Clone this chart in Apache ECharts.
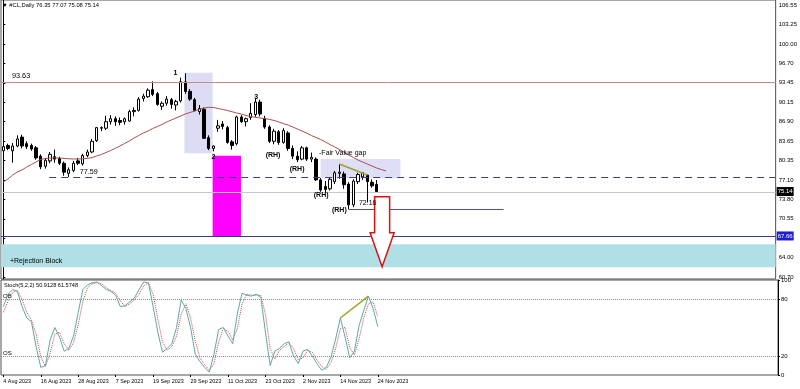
<!DOCTYPE html>
<html><head><meta charset="utf-8">
<script src="https://cdn.jsdelivr.net/npm/echarts@6/dist/echarts.min.js"></script>
<style>html,body{margin:0;padding:0;background:#fff}#c{width:800px;height:389px}</style>
</head><body><div id="c"></div>
<script>
// ---------------- DATA ----------------
const dates = ['4 Aug 2023','7 Aug 2023','8 Aug 2023','9 Aug 2023','10 Aug 2023','11 Aug 2023','14 Aug 2023','15 Aug 2023','16 Aug 2023','17 Aug 2023','18 Aug 2023','21 Aug 2023','22 Aug 2023','23 Aug 2023','24 Aug 2023','25 Aug 2023','28 Aug 2023','29 Aug 2023','30 Aug 2023','31 Aug 2023',
'1 Sep 2023','4 Sep 2023','5 Sep 2023','6 Sep 2023','7 Sep 2023','8 Sep 2023','11 Sep 2023','12 Sep 2023','13 Sep 2023','14 Sep 2023','15 Sep 2023','18 Sep 2023','19 Sep 2023','20 Sep 2023','21 Sep 2023','22 Sep 2023','25 Sep 2023','26 Sep 2023','27 Sep 2023','28 Sep 2023','29 Sep 2023',
'2 Oct 2023','3 Oct 2023','4 Oct 2023','5 Oct 2023','6 Oct 2023','9 Oct 2023','10 Oct 2023','11 Oct 2023','12 Oct 2023','13 Oct 2023','16 Oct 2023','17 Oct 2023','18 Oct 2023','19 Oct 2023','20 Oct 2023','23 Oct 2023','24 Oct 2023','25 Oct 2023','26 Oct 2023','27 Oct 2023','30 Oct 2023','31 Oct 2023',
'1 Nov 2023','2 Nov 2023','3 Nov 2023','6 Nov 2023','7 Nov 2023','8 Nov 2023','9 Nov 2023','10 Nov 2023','13 Nov 2023','14 Nov 2023','15 Nov 2023','16 Nov 2023','17 Nov 2023','20 Nov 2023','21 Nov 2023','22 Nov 2023','23 Nov 2023','24 Nov 2023'];

const dateTickLabels = ['4 Aug 2023','16 Aug 2023','28 Aug 2023','7 Sep 2023','19 Sep 2023','29 Sep 2023','11 Oct 2023','23 Oct 2023','2 Nov 2023','14 Nov 2023','24 Nov 2023'];

const openP = [82.0,82.9,82.0,82.8,84.3,83.2,82.9,82.5,81.1,79.4, 80.3,81.0,80.7,79.9,78.2,78.7,80.3,79.8,81.2,81.8, 83.7,85.8,85.8,86.9,87.4,87.1,86.9,87.0,88.6,88.8, 90.8,91.1,92.3,91.6,89.5,90.0,90.6,89.7,90.4,93.6, 92.0,90.6,88.6,89.0,84.2,82.4,85.8,86.5,85.9,83.5, 83.2,87.7,86.9,87.6,88.1,90.2,87.4,86.0,83.6,85.2, 83.4,85.0,82.4,81.1,80.6,82.5,80.6,80.6,77.1,76.0, 75.6,76.8,78.2,78.1,76.4,72.9,76.8,77.6,77.9,76.7, 76.35];
const highP = [83.3,83.2,83.3,84.6,84.7,83.6,83.2,82.8,81.4,80.8, 81.8,82.2,81.0,80.2,79.2,80.3,80.8,81.5,82.2,84.0, 86.0,86.1,87.9,88.0,87.8,87.6,87.6,88.9,89.3,91.0, 91.6,92.5,93.7,91.9,90.3,91.2,90.9,90.6,94.3,95.05, 92.4,90.9,89.7,89.3,84.6,82.9,87.2,87.0,86.2,83.8, 87.9,88.0,87.6,90.0,90.9,90.6,87.9,86.3,85.7,85.5, 85.8,85.3,82.9,81.9,82.8,82.7,81.7,80.9,77.4,76.9, 77.5,78.6,79.77,78.5,76.7,77.2,78.3,78.3,77.95,77.2, 77.07];
const lowP = [81.6,82.1,80.0,82.6,82.4,82.3,82.0,80.5,78.9,79.0, 79.9,80.0,79.6,77.8,77.59,78.4,79.6,79.5,80.9,81.6, 83.5,85.3,85.5,86.4,86.2,86.3,86.4,86.9,87.8,88.6, 90.3,90.9,91.2,89.6,88.9,89.6,89.1,88.8,90.1,91.6, 90.4,88.6,88.1,84.0,82.1,81.9,85.2,85.6,83.2,82.2, 82.9,86.7,86.1,87.2,87.7,87.8,85.7,83.3,83.1,83.0, 83.2,82.0,80.6,80.1,80.4,80.3,80.1,76.9,75.1,75.0, 75.3,76.4,77.3,75.6,72.16,72.5,76.4,77.1,73.3,75.8, 75.08];
const closeP = [82.7,82.4,82.8,84.0,82.8,82.7,82.3,80.8,79.3,80.4, 81.4,80.6,79.9,78.4,78.8,79.9,79.9,81.2,81.8,83.6, 85.9,85.9,86.9,87.4,86.9,86.8,87.4,88.6,88.8,90.7, 91.2,92.2,91.5,89.8,90.0,90.7,89.8,90.3,93.63,92.0, 90.7,88.8,89.1,84.1,82.4,82.8,86.2,86.1,83.4,82.9, 87.7,86.9,87.4,88.3,90.2,88.2,86.0,83.6,85.3,83.4, 85.4,82.4,81.1,80.5,82.5,80.6,80.9,77.1,75.4,75.5, 77.2,78.3,78.4,76.3,72.9,76.9,78.0,78.3,76.8,76.1, 75.14];

// moving average (drawn 2 bars past the last candle)
const maLine = [76.74,77.25,77.92,78.43,78.76,79.27,79.69,80.11,80.53,80.70, 80.78,80.80,80.78,80.72,80.65,80.62,80.62,80.66,80.72,80.85, 81.12,81.37,81.71,82.05,82.42,82.81,83.23,83.65,84.15,84.57, 84.99,85.33,85.75,86.09,86.42,86.85,87.18,87.52,87.86,88.19, 88.44,88.70,88.95,89.20,89.32,89.29,89.12,88.95,88.78,88.58, 88.36,88.19,87.94,87.77,87.64,87.52,87.43,87.30,87.10,86.85, 86.59,86.34,86.00,85.67,85.33,84.99,84.57,84.24,83.90,83.48, 83.06,82.64,82.22,81.79,81.29,80.87,80.45,80.11,79.77,79.44, 79.10,78.85,78.60];

const stochMain = [72,85,90,88,72,60,56,30,8,10, 37,50,40,25,28,41,66,90,95,97, 98,94,90,88,84,72,73,77,81,90, 98,97,72,45,24,28,33,50,79,70, 50,22,14,8,3,22,48,50,41,33, 65,86,84,83,85,82,45,10,25,28, 33,35,20,12,25,27,20,12,5,8, 19,38,60,40,18,25,52,68,83,70, 50.91];
const stochSignal = [66,78,87,89,80,66,58,43,19,9, 23,43,45,33,26,34,53,78,92,96, 97,96,92,89,86,78,72,75,79,85, 94,97,85,59,35,26,30,41,64,75, 60,36,18,11,5,12,35,49,46,37, 49,75,85,84,84,84,64,28,17,26, 30,34,28,16,18,26,24,16,9,6, 13,28,49,50,29,21,38,60,75,77, 61.57];

const priceTicks = [60.70,64.00,67.25,70.55,73.80,77.10,80.35,83.65,86.90,90.15,93.45,96.70,100.00,103.25,106.55];
const stochTicks = [0,20,80,100];
const stochLevels = [80,20];

// ---------------- ANNOTATIONS (in bar index / price units) ----------------
const N = 166; // visible bar slots across the chart width
const zoneRects = [
  {x0:38.81, x1:44.85, top:95.15, bottom:81.58, color:'#dcdcf4'},
  {x0:44.85, x1:50.92, top:81.17, bottom:67.54, color:'#ff00ff'},
  {x0:68.0,  x1:85.1,  top:80.62, bottom:77.37, color:'#dedef6'},
  {x0:-0.5,  x1:N-0.5, top:66.26, bottom:62.39, color:'#b0e0e6'}
];
const bgLines = [
  {x0:-0.5, x1:N-0.5, p0:75.14, p1:75.14, color:'#c8c8c8', width:1}
];
const fgLines = [
  {x0:-0.5, x1:N-0.5, p0:93.63, p1:93.63, color:'#c88a8a', width:1},
  {x0:9.82, x1:N-0.5, p0:77.59, p1:77.59, color:'#404080', width:1, dash:[7,5]},
  {x0:-0.5, x1:N-0.5, p0:67.66, p1:67.66, color:'#3c3c80', width:1},
  {x0:74,   x1:107.2, p0:72.16, p1:72.16, color:'#5050a0', width:1},
  {x0:72,   x1:78,    p0:79.77, p1:77.92, color:'#a0a030', width:1.5}
];
const noteTexts = [
  {t:'93.63', x:1.85, p:94.59, size:7.3, bold:false, align:'left'},
  {t:'77.59', x:16.38, p:78.43, size:7.2, bold:false, align:'left'},
  {t:'72.16', x:76.2, p:73.12, size:7, bold:false, align:'left'},
  {t:'1', x:36.9, p:95.09, size:7, bold:true, align:'center'},
  {t:'2', x:45.0, p:80.95, size:7, bold:true, align:'center'},
  {t:'3', x:54.2, p:91.05, size:7, bold:true, align:'center'},
  {t:'(RH)', x:57.8, p:81.3, size:7, bold:true, align:'center'},
  {t:'(RH)', x:62.95, p:78.94, size:7, bold:true, align:'center'},
  {t:'(RH)', x:68.1, p:74.55, size:7, bold:true, align:'center'},
  {t:'(RH)', x:72.0, p:72.0, size:7, bold:true, align:'center'},
  {t:'-Fair Value gap', x:67.65, p:81.63, size:7, bold:false, align:'left'},
  {t:'+Rejection Block', x:1.42, p:63.45, size:7, bold:false, align:'left'}
];
const arrowDown = {x:81.17, top:74.27, shaftEnd:68.21, tip:62.49};
const priceTags = [
  {p:75.14, bg:'#000000', fg:'#ffffff'},
  {p:67.66, bg:'#1e1ed2', fg:'#ffffff'}
];

// ---------------- BUILD ----------------
const cats = dates.concat(Array.from({length: N - dates.length}, (_, k) => '_' + k));
const candleData = dates.map((d, i) => [openP[i], closeP[i], lowP[i], highP[i]]);
const showTick = (idx, val) => dateTickLabels.indexOf(val) >= 0;
const FONT = 'Liberation Sans, Arial, sans-serif';
const crisp = v => Math.round(v) + 0.5;

function lineSeries(list, z, name) {
  return {
    type:'custom', name, xAxisIndex:2, yAxisIndex:0, z, silent:true,
    data: list.map(l => [l.x0, l.p0]),
    renderItem: (params, api) => {
      const l = list[params.dataIndex];
      const a = api.coord([l.x0, l.p0]), b = api.coord([l.x1, l.p1]);
      const flat = l.p0 === l.p1;
      return {type:'line', shape:{x1:a[0], y1: flat ? crisp(a[1]) : a[1], x2:b[0], y2: flat ? crisp(b[1]) : b[1]},
        style:{stroke:l.color, lineWidth:l.width, lineDash:l.dash || null}};
    }
  };
}

const option = {
  animation:false,
  backgroundColor:'#ffffff',
  textStyle:{fontFamily:FONT},
  grid:[
    {left:1, top:0, width:777, height:279, show:true, borderColor:'#505050', borderWidth:1},
    {left:1, top:280, width:777, height:95, show:true, borderColor:'#505050', borderWidth:1}
  ],
  xAxis:[
    {type:'category', gridIndex:0, data:cats, boundaryGap:true, axisLine:{show:false}, axisTick:{show:false}, axisLabel:{show:false}, splitLine:{show:false}},
    {type:'category', gridIndex:1, data:cats, boundaryGap:true, axisLine:{show:false},
      axisTick:{show:true, interval:showTick, length:2, alignWithLabel:true, lineStyle:{color:'#000'}},
      axisLabel:{interval:showTick, align:'left', fontSize:5.4, color:'#000', margin:4, fontFamily:FONT}, splitLine:{show:false}},
    {type:'value', gridIndex:0, min:-0.5, max:N-0.5, show:false}
  ],
  yAxis:[
    {type:'value', gridIndex:0, position:'right', min:60.415, max:107.384,
      axisLine:{show:true, lineStyle:{color:'#000'}},
      axisTick:{show:true, length:2, customValues:priceTicks, lineStyle:{color:'#000'}},
      axisLabel:{customValues:priceTicks, formatter:v => v.toFixed(2), fontSize:6, color:'#000', margin:3, fontFamily:FONT},
      splitLine:{show:false}},
    {type:'value', gridIndex:1, position:'right', min:0, max:100,
      axisLine:{show:true, lineStyle:{color:'#000'}},
      axisTick:{show:true, length:2, customValues:stochTicks, lineStyle:{color:'#000'}},
      axisLabel:{customValues:stochTicks, fontSize:6, color:'#000', margin:3, fontFamily:FONT},
      splitLine:{show:false}}
  ],
  graphic:[
    {type:'text', left:2, top:2, style:{text:'\u25BC #CL,Daily 76.35 77.07 75.08 75.14', font:'5.8px ' + FONT, fill:'#000'}},
    {type:'text', left:4, top:282, style:{text:'Stoch(5,2,2) 50.9128 61.5748', font:'5.6px ' + FONT, fill:'#000'}},
    {type:'text', left:3, top:293.5, style:{text:'OB', font:'6px ' + FONT, fill:'#000'}},
    {type:'text', left:3, top:350, style:{text:'OS', font:'6px ' + FONT, fill:'#000'}}
  ],
  series:[
    {
      type:'custom', name:'zones', xAxisIndex:2, yAxisIndex:0, z:1, silent:true,
      data: zoneRects.map(r => [r.x0, r.top]),
      renderItem: (params, api) => {
        const r = zoneRects[params.dataIndex];
        const a = api.coord([r.x0, r.top]), b = api.coord([r.x1, r.bottom]);
        return {type:'rect', shape:{x:a[0], y:a[1], width:b[0]-a[0], height:b[1]-a[1]}, style:{fill:r.color}};
      }
    },
    lineSeries(bgLines, 1.5, 'bgLines'),
    {
      type:'candlestick', name:'CL', xAxisIndex:0, yAxisIndex:0, z:2, barWidth:3,
      data:candleData,
      itemStyle:{color:'#ffffff', color0:'#000000', borderColor:'#000000', borderColor0:'#000000', borderWidth:1}
    },
    {
      type:'line', name:'MA', xAxisIndex:0, yAxisIndex:0, z:3, data:maLine, showSymbol:false, symbol:'none',
      lineStyle:{color:'#a8504f', width:1}
    },
    lineSeries(fgLines, 4, 'fgLines'),
    {
      type:'custom', name:'notes', xAxisIndex:2, yAxisIndex:0, z:6, silent:true,
      data: noteTexts.map(n => [n.x, n.p]),
      renderItem: (params, api) => {
        const n = noteTexts[params.dataIndex];
        const a = api.coord([n.x, n.p]);
        return {type:'text', x:a[0], y:a[1], style:{text:n.t, font:(n.bold ? 'bold ' : '') + n.size + 'px ' + FONT, fill:'#000', align:n.align, verticalAlign:'middle'}};
      }
    },
    {
      type:'custom', name:'arrow', xAxisIndex:2, yAxisIndex:0, z:5, silent:true,
      data:[[arrowDown.x, arrowDown.top]],
      renderItem: (params, api) => {
        const t = api.coord([arrowDown.x, arrowDown.top]);
        const s = api.coord([arrowDown.x, arrowDown.shaftEnd])[1];
        const e = api.coord([arrowDown.x, arrowDown.tip])[1];
        const cx = t[0];
        return {type:'polygon', shape:{points:[[cx-7.5,t[1]],[cx+7.5,t[1]],[cx+7.5,s],[cx+12,s],[cx,e],[cx-12,s],[cx-7.5,s]]},
          style:{fill:'#ffffff', stroke:'#dd1111', lineWidth:1.5}};
      }
    },
    {
      type:'custom', name:'tags', xAxisIndex:2, yAxisIndex:0, z:7, silent:true,
      data: priceTags.map(t => [N-0.5, t.p]),
      renderItem: (params, api) => {
        const t = priceTags[params.dataIndex];
        const a = api.coord([N-0.5, t.p]);
        return {type:'group', children:[
          {type:'rect', shape:{x:a[0]+1, y:a[1]-4.5, width:17, height:9}, style:{fill:t.bg}},
          {type:'text', x:a[0]+9.5, y:a[1], style:{text:t.p.toFixed(2), font:'6px ' + FONT, fill:t.fg, align:'center', verticalAlign:'middle'}}
        ]};
      }
    },
    {
      type:'line', name:'Stoch', xAxisIndex:1, yAxisIndex:1, data:stochMain, showSymbol:false, symbol:'none', z:3,
      lineStyle:{color:'#5fa8a8', width:1},
      markLine:{
        silent:true, symbol:['none','none'], label:{show:false}, animation:false,
        data:[
          {yAxis:stochLevels[0], lineStyle:{type:'dotted', color:'#8c8c8c', width:1}},
          {yAxis:stochLevels[1], lineStyle:{type:'dotted', color:'#8c8c8c', width:1}},
          [{coord:[72, stochMain[72]], lineStyle:{type:'solid', color:'#a0a020', width:1.5}}, {coord:[78, stochMain[78]]}]
        ]
      }
    },
    {
      type:'line', name:'Signal', xAxisIndex:1, yAxisIndex:1, data:stochSignal, showSymbol:false, symbol:'none', z:2,
      lineStyle:{color:'#d04848', width:1, type:'dotted'}
    }
  ]
};
const chart = echarts.init(document.getElementById('c'), null, {width:800, height:389});
chart.setOption(option);
</script>
</body></html>
